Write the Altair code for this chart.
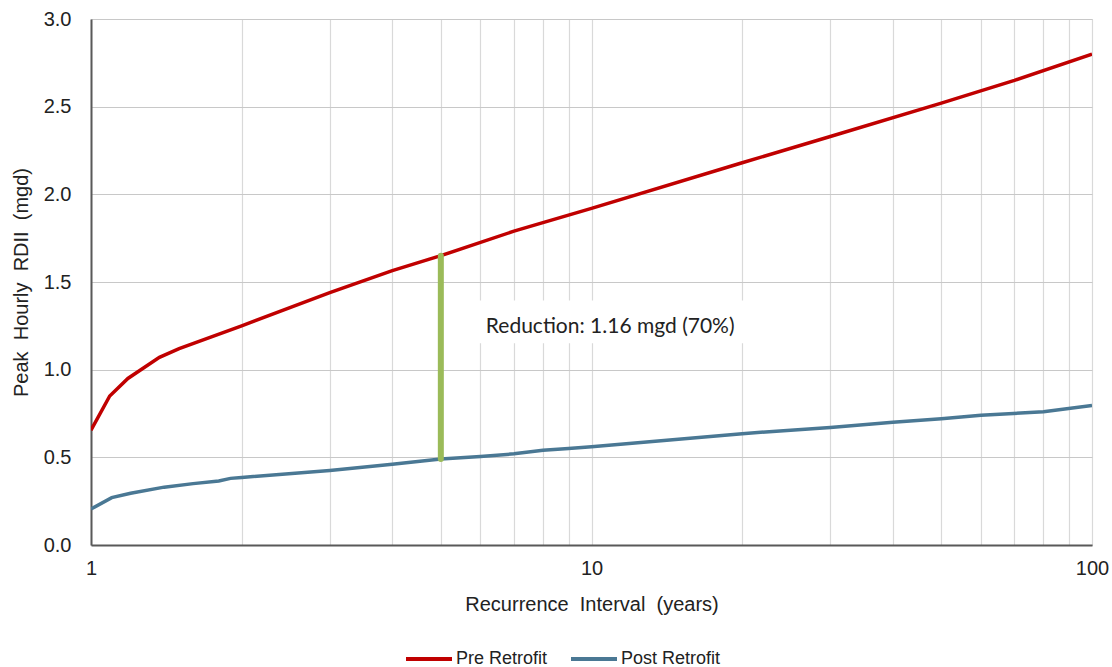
import altair as alt
import pandas as pd

pre_T = [1, 1.09, 1.185, 1.37, 1.5, 2, 3, 4, 5, 7, 10, 20, 30, 50, 70, 100]
pre_V = [0.655, 0.85, 0.95, 1.07, 1.12, 1.25, 1.44, 1.565, 1.65, 1.79, 1.92, 2.18, 2.33, 2.52, 2.65, 2.80]

post_T = [1, 1.1, 1.2, 1.4, 1.6, 1.8, 1.9, 2, 3, 4, 5, 6, 7, 8, 9, 10, 20, 25, 30, 40, 50, 60, 80, 100]
post_V = [0.205, 0.27, 0.295, 0.33, 0.35, 0.365, 0.38, 0.385, 0.425, 0.46, 0.49, 0.505, 0.52, 0.54,
          0.55, 0.56, 0.635, 0.655, 0.67, 0.70, 0.72, 0.74, 0.76, 0.795]

series_names = ["Pre Retrofit", "Post Retrofit"]
series_colors = ["#C00000", "#4A7894"]

reduction_T = 5
reduction_low = 0.49
reduction_high = 1.65
note_text = "Reduction: 1.16 mgd (70%)"

NB = "\u00a0"
x_title = "Recurrence" + NB + NB + "Interval" + NB + NB + "(years)"
y_title = "Peak" + NB + NB + "Hourly" + NB + NB + "RDII" + NB + NB + "(mgd)"

grid_values = [1, 2, 3, 4, 5, 6, 7, 8, 9, 10, 20, 30, 40, 50, 60, 70, 80, 90, 100]

df = pd.concat([
    pd.DataFrame({"T": pre_T, "V": pre_V, "Series": series_names[0], "o": range(len(pre_T))}),
    pd.DataFrame({"T": post_T, "V": post_V, "Series": series_names[1], "o": range(len(post_T))}),
])

xscale = alt.Scale(type="log", domain=[1, 100])
yscale = alt.Scale(domain=[0, 3])

xaxis = alt.Axis(
    values=grid_values,
    labelExpr="(datum.value == 1 || datum.value == 10 || datum.value == 100) ? datum.label : ''",
    format="~g", ticks=False, grid=True, labelFlush=False,
    gridColor="#D9D9D9", gridWidth=1.2,
    domainColor="#595959", domainWidth=2,
    labelFont="Liberation Sans", labelFontSize=20, labelColor="#222222", labelPadding=13,
    title=x_title, titleFont="Liberation Sans", titleFontSize=20,
    titleFontWeight="normal", titleColor="#222222", titlePadding=16,
)
yaxis = alt.Axis(
    values=[0, 0.5, 1, 1.5, 2, 2.5, 3], format=".1f", ticks=False, grid=True,
    gridColor="#C8C8C8", gridWidth=1.2,
    domainColor="#595959", domainWidth=2,
    labelFont="Liberation Sans", labelFontSize=20, labelColor="#222222", labelPadding=20,
    title=y_title, titleFont="Liberation Sans", titleFontSize=20,
    titleFontWeight="normal", titleColor="#222222", titlePadding=12,
)

lines = alt.Chart(df).mark_line(strokeWidth=3.5, clip=True).encode(
    x=alt.X("T:Q", scale=xscale, axis=xaxis),
    y=alt.Y("V:Q", scale=yscale, axis=yaxis),
    color=alt.Color("Series:N", scale=alt.Scale(domain=series_names, range=series_colors),
                    legend=alt.Legend(
                        orient="none", legendX=313, legendY=615, direction="horizontal",
                        title=None, symbolType="stroke", symbolSize=2116, symbolStrokeWidth=4,
                        labelFont="Liberation Sans", labelFontSize=18, labelColor="#222222",
                        columnPadding=15, labelOffset=2, gridAlign="none")),
    order="o:Q",
)

bar_df = pd.DataFrame({"T": [reduction_T], "lo": [reduction_low], "hi": [reduction_high]})
bar = alt.Chart(bar_df).mark_rule(color="#9BBB59", strokeWidth=6, strokeCap="round").encode(
    x="T:Q", y="lo:Q", y2="hi:Q")

box_df = pd.DataFrame({"x1": [5.6], "x2": [24], "y1": [1.15], "y2": [1.395]})
box = alt.Chart(box_df).mark_rect(color="white").encode(
    x="x1:Q", x2="x2:Q", y="y1:Q", y2="y2:Q")

note_df = pd.DataFrame({"T": [6.15], "V": [1.245], "t": [note_text]})
note = alt.Chart(note_df).mark_text(align="left", baseline="middle", font="Lato",
                                    fontSize=21, color="#222222").encode(
    x="T:Q", y="V:Q", text="t:N")

chart = alt.layer(box, lines, bar, note).properties(
    width=1001, height=526,
    autosize=alt.AutoSizeParams(type="none"),
    padding={"left": 91, "top": 19, "right": 20, "bottom": 122},
).configure_view(stroke="#A6A6A6", strokeWidth=2).configure(background="white")

chart.save("out.html", embed_options={"renderer": "svg", "actions": False})
